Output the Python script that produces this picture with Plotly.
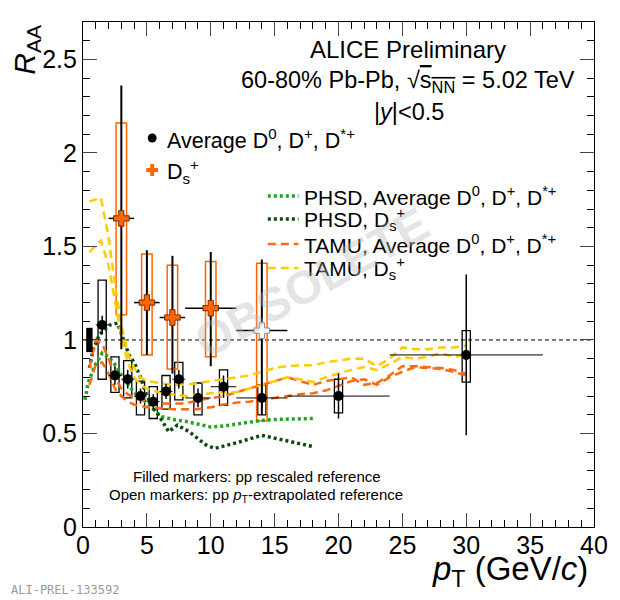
import plotly.graph_objects as go

# ---- data: average D0, D+, D*+ (filled black)
d_pt = [1.5, 2.5, 3.5, 4.5, 5.5, 6.5, 7.5, 9, 11, 14, 20, 30]
d_binw = [0.5, 0.5, 0.5, 0.5, 0.5, 0.5, 0.5, 1, 1, 2, 4, 6]
d_raa = [1.08, 0.81, 0.79, 0.70, 0.67, 0.725, 0.79, 0.69, 0.75, 0.69, 0.70, 0.92]
d_stat = [0.05, 0.05, 0.05, 0.04, 0.04, 0.04, 0.05, 0.05, 0.06, 0.06, 0.12, 0.43]
d_sys_lo = [0.79, 0.72, 0.69, 0.60, 0.58, 0.63, 0.68, 0.60, 0.65, 0.60, 0.61, 0.775]
d_sys_hi = [1.32, 0.91, 0.89, 0.78, 0.75, 0.81, 0.88, 0.77, 0.84, 0.76, 0.79, 1.05]

# ---- data: Ds+ (orange crosses, last one open)
ds_pt = [3, 5, 7, 10, 14]
ds_binw = [1, 1, 1, 2, 2]
ds_raa = [1.65, 1.20, 1.12, 1.17, 1.05]
ds_stat_hi = [0.71, 0.28, 0.33, 0.30, 0.38]
ds_stat_lo = [0.70, 0.28, 0.30, 0.31, 0.45]
ds_sys_lo = [1.135, 0.92, 0.845, 0.91, 0.567]
ds_sys_hi = [2.16, 1.46, 1.40, 1.42, 1.41]
ds_open = [False, False, False, False, True]

# normalisation uncertainty
norm_pt = 0.5
norm_unc = 0.065

# ---- models
phsd_avg_pt = [0.15, 0.4, 0.9, 1.5, 2.0, 2.6, 3.1, 4.0, 4.9, 5.7, 6.2, 7, 8, 9, 10, 11, 12, 13, 14, 15, 16, 17, 18]
phsd_avg_raa = [0.68, 0.77, 0.86, 0.93, 0.91, 0.86, 0.80, 0.72, 0.67, 0.615, 0.59, 0.575, 0.565, 0.55, 0.535,
                0.54, 0.55, 0.56, 0.57, 0.575, 0.578, 0.58, 0.58]

phsd_ds_pt = [0.5, 0.8, 1.3, 2.1, 2.7, 3.2, 3.6, 4.0, 4.5, 5.0, 5.5, 6.0, 6.7, 7.4, 8.3, 9.6, 10.3, 12, 14, 16, 18]
phsd_ds_raa = [0.85, 0.95, 1.03, 1.08, 1.09, 1.00, 0.92, 0.88, 0.80, 0.70, 0.64, 0.59, 0.51, 0.545, 0.51,
               0.44, 0.42, 0.45, 0.49, 0.46, 0.43]

tamu_ds_pt = [0.5, 1.4, 2.0, 2.5, 3.0, 3.5, 4.0, 4.5, 5.0, 6.0, 7.0, 8.0, 9.0, 10, 11, 12, 13, 14, 15, 16, 17,
              18, 19, 20, 21, 22, 23, 24, 25, 26, 27, 28, 29, 30]
tamu_ds_hi = [1.74, 1.76, 1.55, 1.30, 1.08, 0.93, 0.85, 0.80, 0.78, 0.77, 0.76, 0.76, 0.77, 0.78, 0.79, 0.80,
              0.81, 0.83, 0.85, 0.86, 0.865, 0.865, 0.88, 0.89, 0.90, 0.90, 0.86, 0.90, 0.96, 0.95, 0.95, 0.96,
              0.96, 0.97]
tamu_ds_lo = [1.47, 1.53, 1.40, 1.22, 1.02, 0.88, 0.80, 0.76, 0.74, 0.72, 0.71, 0.70, 0.71, 0.715, 0.72, 0.72,
              0.74, 0.76, 0.78, 0.80, 0.79, 0.775, 0.80, 0.82, 0.84, 0.855, 0.84, 0.87, 0.91, 0.90, 0.91, 0.93,
              0.91, 0.92]

tamu_avg_pt = [0.5, 1.0, 1.5, 2.0, 2.5, 3.0, 3.5, 4.0, 5.0, 6.0, 7.0, 8.0, 9.0, 10, 11, 12, 13, 14, 15, 16, 17,
               18, 19, 20, 21, 22, 23, 24, 25, 26, 27, 28, 29, 30]
tamu_avg_hi = [0.85, 1.00, 0.98, 0.90, 0.80, 0.74, 0.71, 0.69, 0.67, 0.66, 0.66, 0.66, 0.677, 0.69, 0.70, 0.72,
               0.74, 0.76, 0.78, 0.80, 0.78, 0.76, 0.78, 0.79, 0.80, 0.76, 0.77, 0.81, 0.86, 0.86, 0.855, 0.85,
               0.84, 0.82]
tamu_avg_lo = [0.76, 0.87, 0.88, 0.82, 0.74, 0.70, 0.67, 0.655, 0.64, 0.635, 0.63, 0.63, 0.63, 0.64, 0.655,
               0.665, 0.67, 0.68, 0.69, 0.70, 0.71, 0.715, 0.73, 0.755, 0.78, 0.79, 0.76, 0.80, 0.83, 0.855,
               0.85, 0.845, 0.83, 0.81]

# colours
c_phsd_avg = "#1da51d"
c_phsd_ds = "#0c4a12"
c_tamu_avg = "#ff6a13"
c_tamu_ds = "#ffcc00"
c_ds = "#ff6600"

FONT = "Liberation Sans"

fig = go.Figure()

# model curves
fig.add_trace(go.Scatter(x=phsd_avg_pt, y=phsd_avg_raa, mode="lines",
                         line=dict(color=c_phsd_avg, width=3.5, dash="3px,3px")))
fig.add_trace(go.Scatter(x=phsd_ds_pt, y=phsd_ds_raa, mode="lines",
                         line=dict(color=c_phsd_ds, width=3.5, dash="3px,3px")))
for arr in (tamu_avg_hi, tamu_avg_lo):
    fig.add_trace(go.Scatter(x=tamu_avg_pt, y=arr, mode="lines",
                             line=dict(color=c_tamu_avg, width=2.5, dash="8px,5px")))
for arr in (tamu_ds_hi, tamu_ds_lo):
    fig.add_trace(go.Scatter(x=tamu_ds_pt, y=arr, mode="lines",
                             line=dict(color=c_tamu_ds, width=2.5, dash="8px,5px")))

# systematic boxes
shapes = []
for p, lo, hi in zip(d_pt, d_sys_lo, d_sys_hi):
    shapes.append(dict(type="rect", xref="x", yref="y", x0=p - 0.32, x1=p + 0.32, y0=lo, y1=hi,
                       line=dict(color="black", width=1.3), fillcolor="rgba(0,0,0,0)", layer="below"))
for p, lo, hi in zip(ds_pt, ds_sys_lo, ds_sys_hi):
    shapes.append(dict(type="rect", xref="x", yref="y", x0=p - 0.41, x1=p + 0.41, y0=lo, y1=hi,
                       line=dict(color=c_ds, width=1.5), fillcolor="rgba(0,0,0,0)", layer="below"))
# normalisation box
shapes.append(dict(type="rect", xref="x", yref="y", x0=norm_pt - 0.25, x1=norm_pt + 0.25,
                   y0=1 - norm_unc, y1=1 + norm_unc, line=dict(width=0), fillcolor="black"))
# unity line
shapes.append(dict(type="line", xref="paper", yref="y", x0=0, x1=1, y0=1, y1=1,
                   line=dict(color="black", width=1, dash="4px,3px"), layer="below"))

# average D points
fig.add_trace(go.Scatter(
    x=d_pt, y=d_raa, mode="markers",
    marker=dict(symbol="circle", size=10, color="black"),
    error_x=dict(type="data", array=d_binw, thickness=1, width=0, color="black"),
    error_y=dict(type="data", array=d_stat, thickness=1.5, width=0, color="black"),
))

# Ds points
fig.add_trace(go.Scatter(
    x=ds_pt, y=ds_raa, mode="markers",
    marker=dict(symbol="cross", size=13,
                color=["white" if o else c_ds for o in ds_open],
                line=dict(color=["#888888" if o else "#7a2a00" for o in ds_open], width=1)),
    error_x=dict(type="data", array=ds_binw, thickness=1.5, width=0, color="black"),
    error_y=dict(type="data", symmetric=False, array=ds_stat_hi, arrayminus=ds_stat_lo,
                 thickness=2, width=0, color="black"),
))


# page pixel -> paper coords (plot frame sits at x 83..600, y 22..527 of the page)
def px_x(px):
    return (px - 83) / 517


def px_y(py):
    return (527 - py) / 505


annotations = []


def text(s, x, y, size, xanchor="left", color="black", angle=0, family=FONT):
    annotations.append(dict(text=s, x=px_x(x), y=px_y(y), xref="paper", yref="paper",
                            xanchor=xanchor, yanchor="middle", showarrow=False, textangle=angle,
                            font=dict(family=family, size=size, color=color)))


# header text
text("ALICE Preliminary", 412, 49, 24, "center")
text("60-80% Pb-Pb, √<span style='text-decoration:overline'>s<sub>NN</sub></span> = 5.02 TeV", 412, 81, 23.5, "center")
text("|<i>y</i>|<0.5", 413, 112, 23.5, "center")

# data legend
shapes.append(dict(type="circle", xref="paper", yref="paper",
                   x0=px_x(148.5), x1=px_x(157.5), y0=px_y(142.5), y1=px_y(133.5),
                   fillcolor="black", line=dict(width=0)))
text("Average D<sup>0</sup>, D<sup>+</sup>, D<sup>*+</sup>", 166, 139, 21.5)
cx, cy = 153, 170
shapes.append(dict(type="path", xref="paper", yref="paper",
                   path=" ".join([
                       f"M{px_x(cx-2)},{px_y(cy-6)} L{px_x(cx+2)},{px_y(cy-6)} L{px_x(cx+2)},{px_y(cy-2)}",
                       f"L{px_x(cx+6)},{px_y(cy-2)} L{px_x(cx+6)},{px_y(cy+2)} L{px_x(cx+2)},{px_y(cy+2)}",
                       f"L{px_x(cx+2)},{px_y(cy+6)} L{px_x(cx-2)},{px_y(cy+6)} L{px_x(cx-2)},{px_y(cy+2)}",
                       f"L{px_x(cx-6)},{px_y(cy+2)} L{px_x(cx-6)},{px_y(cy-2)} L{px_x(cx-2)},{px_y(cy-2)} Z"]),
                   fillcolor=c_ds, line=dict(width=0)))
text("D<sub>s</sub><sup>+</sup>", 166, 171, 21.5)

# model legend
model_leg = [
    (c_phsd_avg, "3px,3px", 3.5, "PHSD, Average D<sup>0</sup>, D<sup>+</sup>, D<sup>*+</sup>", 196),
    (c_phsd_ds, "3px,3px", 3.5, "PHSD, D<sub>s</sub><sup>+</sup>", 219),
    (c_tamu_avg, "8px,5px", 2.5, "TAMU, Average D<sup>0</sup>, D<sup>+</sup>, D<sup>*+</sup>", 244),
    (c_tamu_ds, "8px,5px", 2.5, "TAMU, D<sub>s</sub><sup>+</sup>", 268),
]
for col, dash, w, label, yy in model_leg:
    shapes.append(dict(type="line", xref="paper", yref="paper", x0=px_x(270), x1=px_x(301),
                       y0=px_y(yy), y1=px_y(yy), line=dict(color=col, width=w, dash=dash)))
    text(label, 305, yy, 21)

# footnotes
text("Filled markers: pp rescaled reference", 259, 476, 15, "center")
text("Open markers: pp <i>p</i><sub>T</sub>-extrapolated reference", 258, 495, 15, "center")

# watermark
text("<b>OBSOLETE</b>", 314, 282, 47, "center", color="rgba(185,185,185,0.4)", angle=-29)

# axis titles
text("<i>R</i><sub>AA</sub>", 25, 50, 30, "center", angle=-90)
text("<i>p</i><sub>T</sub> (GeV/<i>c</i>)", 596, 571, 33, "right")

# prelim id
text("ALI-PREL-133592", 8, 590, 12, color="#9a9a9a", family="DejaVu Sans Mono")

# the page body adds an 8px margin, so the figure is 8px smaller and margins are shifted
fig.update_layout(
    width=612, height=592,
    margin=dict(l=75, r=20, t=14, b=73),
    paper_bgcolor="white", plot_bgcolor="white",
    showlegend=False,
    shapes=shapes, annotations=annotations,
    font=dict(family=FONT, color="black"),
)
fig.update_xaxes(range=[0, 40], dtick=5, tick0=0, ticks="inside", ticklen=14, tickwidth=1,
                 mirror="allticks", showline=True, linecolor="black", linewidth=1.2, showgrid=False,
                 zeroline=False, tickfont=dict(size=25, family=FONT), ticklabelstandoff=-4,
                 minor=dict(ticks="inside", ticklen=7, dtick=1, tickcolor="black", showgrid=False))
fig.update_yaxes(range=[0, 2.7], dtick=0.5, tick0=0, ticks="inside", ticklen=14, tickwidth=1,
                 mirror="allticks", showline=True, linecolor="black", linewidth=1.2, showgrid=False,
                 zeroline=False, tickfont=dict(size=25, family=FONT),
                 minor=dict(ticks="inside", ticklen=7, dtick=0.1, tickcolor="black", showgrid=False))

fig.write_html("out.html")
